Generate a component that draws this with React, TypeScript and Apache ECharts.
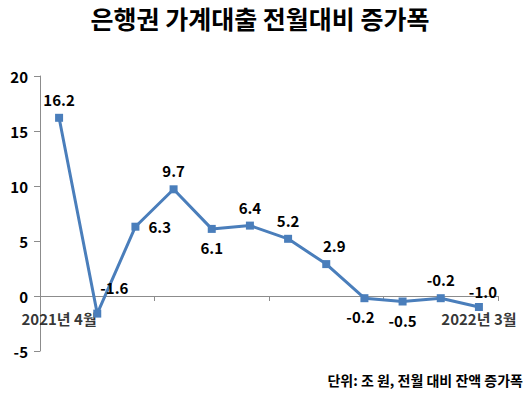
import React, { useEffect, useRef } from "react";
import * as echarts from "echarts";

const categories = [
  "2021년 4월", "2021년 5월", "2021년 6월", "2021년 7월", "2021년 8월", "2021년 9월",
  "2021년 10월", "2021년 11월", "2021년 12월", "2022년 1월", "2022년 2월", "2022년 3월",
];
const values = [16.2, -1.6, 6.3, 9.7, 6.1, 6.4, 5.2, 2.9, -0.2, -0.5, -0.2, -1.0];
const labelPositions = [
  "top", "right", "right", "top", "bottom", "top", "top", "top", "bottom", "bottom", "top", "top",
];
const labelOffsets: number[][] = [
  [0, 0], [-8, -26], [2, 0], [0, 0], [0, 0], [0, 0], [0, 0], [8, 0], [-4, 0], [0, 0], [0, 0], [4, 3],
];
const shownCategoryIdx = [0, 11];

const FONT = "'Noto Sans CJK KR', 'Malgun Gothic', sans-serif";

export default function App() {
  const ref = useRef<HTMLDivElement>(null);
  useEffect(() => {
    if (!ref.current) return;
    const chart = echarts.init(ref.current, null, { renderer: "svg" });
    chart.setOption({
      animation: false,
      backgroundColor: "#ffffff",
      title: {
        text: "은행권 가계대출 전월대비 증가폭",
        left: 255,
        textAlign: "center",
        top: 0,
        textStyle: { fontFamily: FONT, fontSize: 25, fontWeight: "bold", color: "#000" },
      },
      graphic: [
        {
          type: "text",
          right: 7,
          top: 373,
          style: {
            text: "단위: 조 원, 전월 대비 잔액 증가폭",
            fontFamily: FONT,
            fontSize: 14,
            fontWeight: "bold",
            fill: "#000",
          },
        },
      ],
      grid: { left: 40, right: 32, top: 76, bottom: 42 },
      xAxis: {
        type: "category",
        data: categories,
        boundaryGap: true,
        axisLine: { onZero: true, lineStyle: { color: "#8c8c8c", width: 1 } },
        axisTick: { show: true, inside: false, length: 5, lineStyle: { color: "#8c8c8c" } },
        axisLabel: { show: false },
        splitLine: { show: false },
      },
      yAxis: {
        type: "value",
        min: -5,
        max: 20,
        interval: 5,
        axisLine: { show: true, lineStyle: { color: "#8c8c8c", width: 1 } },
        axisTick: { show: true, length: 6, lineStyle: { color: "#8c8c8c" } },
        axisLabel: {
          margin: 12,
          fontFamily: FONT,
          fontSize: 15,
          fontWeight: "bold",
          color: "#000",
        },
        splitLine: { show: false },
      },
      series: [
        {
          type: "scatter",
          symbolSize: 0,
          silent: true,
          z: 1,
          data: categories.map((c, i) =>
            shownCategoryIdx.includes(i) ? [i, 0] : [i, null]
          ),
          label: {
            show: true,
            position: "bottom",
            distance: 15,
            fontFamily: FONT,
            fontSize: 15,
            fontWeight: "bold",
            color: "#000",
            formatter: (p: any) => categories[p.dataIndex],
          },
        },
        {
          type: "line",
          z: 3,
          data: values.map((v, i) => ({
            value: v,
            label: {
              position: labelPositions[i],
              offset: labelOffsets[i],
            },
          })),
          symbol: "rect",
          symbolSize: 8,
          lineStyle: { color: "#4a7ebb", width: 3 },
          itemStyle: { color: "#4a7ebb" },
          label: {
            show: true,
            distance: 7,
            fontFamily: FONT,
            fontSize: 15,
            fontWeight: "bold",
            color: "#000",
            formatter: (p: any) => Number(p.value).toFixed(1),
          },
        },
      ],
    });
    return () => chart.dispose();
  }, []);
  return (
    <div
      ref={ref}
      style={{ position: "fixed", left: 0, top: 0, width: 530, height: 393 }}
    />
  );
}
